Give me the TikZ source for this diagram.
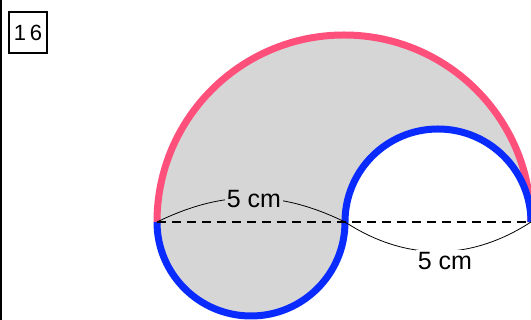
\documentclass[tikz,border=0pt]{standalone}
\usepackage{fontspec}
\setmainfont{Liberation Sans}
\definecolor{pinkc}{HTML}{FF4F7B}
\definecolor{bluec}{HTML}{0A2BFF}
\definecolor{grayc}{HTML}{D6D6D6}
\tikzset{
  thick stroke/.style={line width=7pt, line cap=butt},
  lbl/.style={inner sep=2pt, font=\fontsize{25}{28}\selectfont},
  dimline/.style={line width=0.8pt},
}
\begin{document}
\begin{tikzpicture}[x=1pt,y=1pt]
\useasboundingbox (0,0) rectangle (531,320);
\clip (0,0) rectangle (531,320);
\coordinate (A) at (157,98);
\coordinate (B) at (345,98);
\coordinate (C) at (531,98);
% shaded region
\fill[grayc] (A) arc[start angle=180,end angle=0,radius=187]
  arc[start angle=0,end angle=180,radius=93]
  arc[start angle=0,end angle=-180,radius=94] -- cycle;
% outlines
\draw[thick stroke, pinkc] (A) arc[start angle=180,end angle=0,radius=187];
\draw[thick stroke, bluec] (C) arc[start angle=0,end angle=180,radius=93];
\draw[thick stroke, bluec] (B) arc[start angle=0,end angle=-180,radius=94];
% dashed diameter
\draw[line width=1.2pt, dash pattern=on 9pt off 6pt] (A) -- (C);
% dimension arcs
\draw[dimline] (A) to[bend left=26] (B);
\draw[dimline] (B) to[bend right=33] (C);
\node[lbl, fill=grayc] (l1) at (254,121) {5 cm};
\node[lbl, fill=white] (l2) at (445,59) {5 cm};
% frame items
\draw[line width=2.5pt] (1,0) -- (1,320);
\node[draw, line width=1.5pt, minimum width=38pt, minimum height=41pt, inner sep=0pt,
  font=\fontsize{22}{24}\selectfont] (n16) at (28,287.5) {1\,6};
\end{tikzpicture}
\end{document}
